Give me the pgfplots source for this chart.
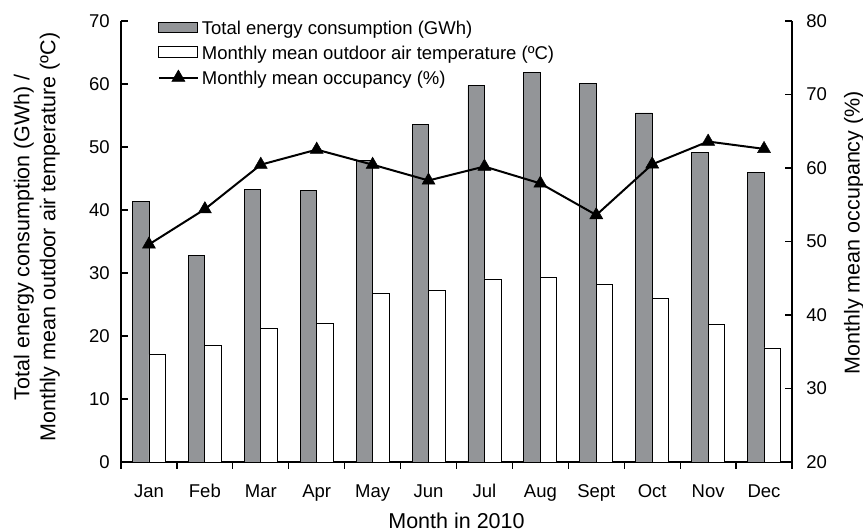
\documentclass[border=0pt]{standalone}
\usepackage{pgfplots}
\pgfplotsset{compat=1.18}
\usepackage{fontspec}
\setmainfont{Liberation Sans}
\definecolor{bargray}{RGB}{147,149,152}
\begin{document}
\fontsize{18.5}{22}\selectfont
\begin{tikzpicture}
\pgfplotsset{
  common/.style={
    width=671pt, height=441pt, scale only axis,
    xmin=-0.5, xmax=11.5,
    tick align=inside,
    major tick length=7pt,
    axis line style={line width=1.2pt},
    every tick/.style={black, line width=1.2pt},
    /pgf/number format/assume math mode=true,
    tick label style={font=\fontsize{18.5}{22}\selectfont},
    label style={font=\fontsize{21.5}{26}\selectfont},
  }
}
\begin{axis}[common,
  axis x line*=bottom, axis y line*=left,
  ymin=0, ymax=70, ytick={0,10,...,70},
  xtick={-0.5,0.5,...,11.5},
  x tick label as interval,
  xticklabels={Jan,Feb,Mar,Apr,May,Jun,Jul,Aug,Sept,Oct,Nov,Dec},
  xticklabel style={yshift=-9pt},
  yticklabel style={xshift=-5pt},
  ybar=0pt, bar width=16.5pt,
  xlabel={Month in 2010},
  xlabel style={at={(axis description cs:0.5,-0.133)}, anchor=center},
  ylabel={Total energy consumption (GWh) /\\Monthly mean outdoor air temperature (ºC)},
  ylabel style={at={(axis description cs:-0.091,0.51)}, anchor=south, align=center, inner sep=0pt},
]
\coordinate (O) at (rel axis cs:0,0);
\addplot[fill=bargray, draw=black, line width=0.8pt] coordinates {
(0,41.3) (1,32.75) (2,43.2) (3,43.05) (4,47.9) (5,53.65)
(6,59.7) (7,61.9) (8,60.1) (9,55.4) (10,49.2) (11,45.9)};
\addplot[fill=white, draw=black, line width=0.8pt] coordinates {
(0,17.1) (1,18.5) (2,21.2) (3,22.0) (4,26.8) (5,27.2)
(6,29.05) (7,29.25) (8,28.2) (9,26.0) (10,21.8) (11,18.1)};
\end{axis}
\begin{axis}[common,
  axis y line*=right, axis x line=none,
  ymin=20, ymax=80, ytick={20,30,...,80},
  yticklabel style={xshift=8pt},
  ylabel={Monthly mean occupancy (\%)},
  ylabel style={at={(axis description cs:1.0924,0.52)}, anchor=center, inner sep=0pt},
  legend cell align=left,
  legend style={draw=none, fill=none, at={(axis description cs:0.055,1.0)}, anchor=north west,
    font=\fontsize{18.5}{22}\selectfont, row sep=7pt, inner sep=0pt, outer sep=0pt,
    nodes={inner xsep=3pt, inner ysep=0pt, text height=13.5pt, text depth=4pt}},
]
\addlegendimage{legend image code/.code={\draw[fill=bargray, draw=black, line width=0.8pt] (0pt,-3pt) rectangle (38pt,7.7pt);}}
\addlegendentry{Total energy consumption (GWh)}
\addlegendimage{legend image code/.code={\draw[fill=white, draw=black, line width=0.8pt] (0pt,-3pt) rectangle (38pt,7.7pt);}}
\addlegendentry{Monthly mean outdoor air temperature (ºC)}
\addlegendimage{legend image code/.code={\draw[black, line width=2pt] (0pt,2.5pt) -- (39pt,2.5pt); \draw[black, fill=black, line width=0.5pt] plot[only marks, mark=triangle*, mark size=7.5pt] coordinates {(19.5pt,2.5pt)};}}
\addlegendentry{Monthly mean occupancy (\%)}
\addplot[black, line width=2pt, mark=triangle*, mark size=7.5pt, mark options={solid, line width=0.5pt}]
coordinates {
(0,49.6) (1,54.4) (2,60.45) (3,62.5) (4,60.45) (5,58.3)
(6,60.2) (7,57.9) (8,53.6) (9,60.5) (10,63.6) (11,62.6)};
\end{axis}
\pgfresetboundingbox
\path ([xshift=-121pt,yshift=-70pt]O) rectangle ([xshift=742pt,yshift=462pt]O);
\end{tikzpicture}
\end{document}
